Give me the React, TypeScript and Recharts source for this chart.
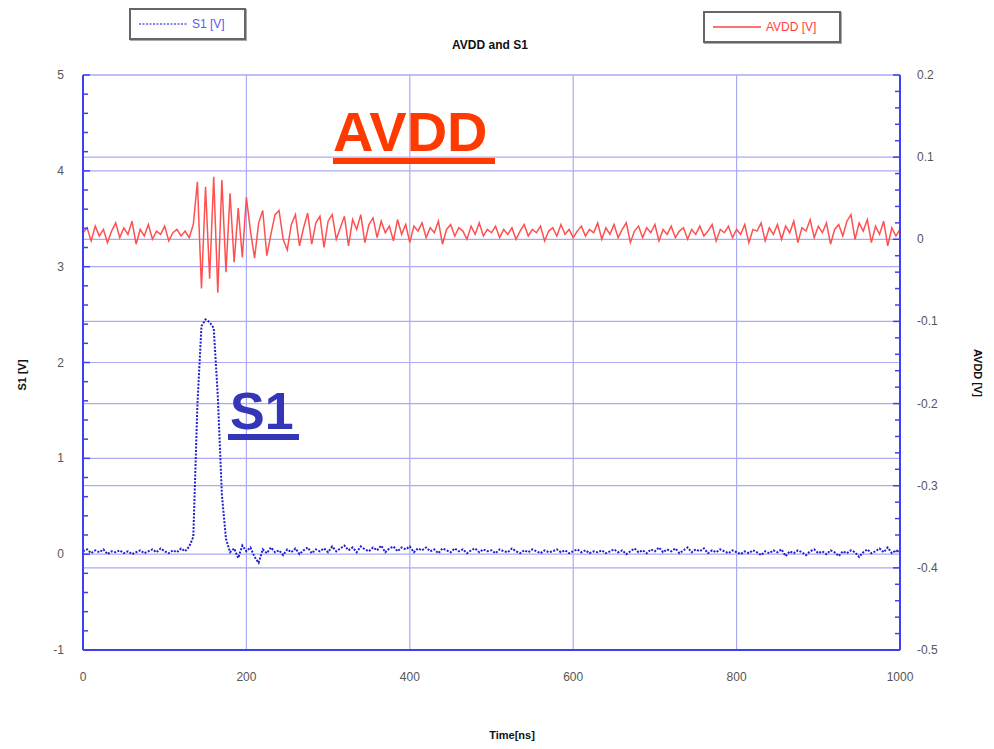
import { LineChart, Line, XAxis, YAxis, CartesianGrid } from 'recharts'

// sample times in ns
const times = [
  0, 5, 10, 15, 20, 25, 30, 35, 40, 45,
  50, 55, 60, 65, 70, 75, 80, 85, 90, 95,
  100, 105, 110, 115, 120, 125, 130, 135, 140, 145,
  150, 155, 160, 165, 170, 175, 180, 185, 190, 195,
  200, 205, 210, 215, 220, 225, 230, 235, 240, 245,
  250, 255, 260, 265, 270, 275, 280, 285, 290, 295,
  300, 305, 310, 315, 320, 325, 330, 335, 340, 345,
  350, 355, 360, 365, 370, 375, 380, 385, 390, 395,
  400, 405, 410, 415, 420, 425, 430, 435, 440, 445,
  450, 455, 460, 465, 470, 475, 480, 485, 490, 495,
  500, 505, 510, 515, 520, 525, 530, 535, 540, 545,
  550, 555, 560, 565, 570, 575, 580, 585, 590, 595,
  600, 605, 610, 615, 620, 625, 630, 635, 640, 645,
  650, 655, 660, 665, 670, 675, 680, 685, 690, 695,
  700, 705, 710, 715, 720, 725, 730, 735, 740, 745,
  750, 755, 760, 765, 770, 775, 780, 785, 790, 795,
  800, 805, 810, 815, 820, 825, 830, 835, 840, 845,
  850, 855, 860, 865, 870, 875, 880, 885, 890, 895,
  900, 905, 910, 915, 920, 925, 930, 935, 940, 945,
  950, 955, 960, 965, 970, 975, 980, 985, 990, 995,
  1000,
]

const s1 = [
  0.03, 0.05, 0.01, 0.04, 0.02, 0.05, 0.0, 0.03, 0.02, 0.04,
  0.01, 0.03, 0.0, 0.02, 0.04, 0.01, 0.03, 0.05, 0.02, 0.06,
  0.03, 0.01, 0.04, 0.02, 0.06, 0.03, 0.08, 0.18, 1.55, 2.38,
  2.45, 2.42, 2.36, 1.65, 0.62, 0.16, 0.02, 0.06, -0.04, 0.09,
  0.03, 0.07, -0.03, -0.09, 0.05, 0.01, 0.07, 0.02, 0.04, -0.01,
  0.05, 0.02, 0.06, 0.0, 0.04, 0.07, 0.01, 0.05, 0.03, 0.06,
  0.02, 0.08, 0.03, 0.06, 0.09, 0.04, 0.07, 0.02, 0.08, 0.05,
  0.03, 0.07, 0.04, 0.09, 0.02, 0.06, 0.08, 0.03, 0.07, 0.05,
  0.08, 0.02, 0.06, 0.04, 0.07, 0.03, 0.05, 0.01, 0.06, 0.04,
  0.02, 0.06, 0.03, 0.05, 0.01, 0.04, 0.06, 0.02, 0.05, 0.03,
  0.04, 0.01, 0.05, 0.03, 0.02, 0.06, 0.03, 0.01, 0.04, 0.02,
  0.05, 0.03, 0.01, 0.04, 0.02, 0.03, 0.05, 0.02, 0.04, 0.01,
  0.03, 0.05, 0.02, 0.04, 0.01, 0.03, 0.02, 0.04, 0.01, 0.03,
  0.05, 0.02, 0.04, 0.0, 0.03, 0.06, 0.02, 0.04, 0.01, 0.05,
  0.03, 0.07, 0.02, 0.05, 0.03, 0.06, 0.01, 0.04, 0.07, 0.02,
  0.05, 0.03, 0.06, 0.01, 0.04, 0.02, 0.05, 0.03, 0.01, 0.04,
  0.02, 0.0, 0.03, 0.01, 0.04, 0.02, -0.01, 0.03, 0.01, 0.04,
  0.02, 0.05, -0.02, 0.03, 0.01, 0.04, 0.02, -0.01, 0.03, 0.05,
  0.01, 0.03, 0.0, 0.04, 0.02, -0.02, 0.03, 0.01, 0.04, 0.02,
  -0.03, 0.02, 0.05, 0.01, 0.03, 0.06, 0.02, 0.07, 0.01, 0.04,
  0.03,
]

const avdd = [
  0.008, 0.014, -0.002, 0.016, 0.004, 0.012, -0.004, 0.01, 0.02, 0.002,
  0.014, 0.006, 0.022, -0.006, 0.012, 0.004, 0.018, 0.0, 0.01, 0.006,
  0.016, -0.002, 0.008, 0.012, 0.004, 0.01, 0.002, 0.018, 0.07, -0.06,
  0.064, -0.048, 0.076, -0.065, 0.072, -0.04, 0.056, -0.028, 0.038, -0.022,
  0.051, 0.01, -0.023, 0.02, 0.035, -0.02, 0.006, 0.03, 0.035, 0.0,
  -0.013, 0.018, 0.03, -0.008, 0.014, 0.032, -0.006, 0.02, 0.028, -0.01,
  0.022, 0.03, 0.0, 0.014, 0.028, -0.008, 0.024, 0.012, 0.03, -0.004,
  0.018, 0.026, 0.002, 0.022, 0.008, 0.016, -0.002, 0.024, 0.006, 0.018,
  -0.004, 0.016, 0.01, 0.02, 0.002, 0.014, 0.008, 0.022, -0.006, 0.012,
  0.018, 0.004, 0.014, 0.01, 0.0, 0.016, 0.006, 0.02, 0.004, 0.012,
  0.008, 0.016, 0.002, 0.012, 0.006, 0.014, 0.0, 0.01, 0.018, 0.004,
  0.012, 0.008, 0.016, -0.002, 0.01, 0.014, 0.004, 0.018, 0.006, 0.012,
  0.002, 0.01, 0.016, 0.004, 0.012, 0.008, 0.02, 0.0, 0.014, 0.006,
  0.018, 0.002, 0.012, 0.02, -0.004, 0.01, 0.016, 0.002, 0.014, 0.008,
  0.018, -0.002, 0.012, 0.006, 0.016, 0.002, 0.01, 0.014, 0.0, 0.012,
  0.006, 0.016, 0.004, 0.01, 0.018, -0.002, 0.012, 0.008, 0.016, 0.002,
  0.012, 0.006, 0.018, -0.004, 0.012, 0.01, 0.02, -0.002, 0.014, 0.006,
  0.018, 0.0, 0.016, 0.008, 0.022, -0.004, 0.014, 0.01, 0.024, 0.002,
  0.016, 0.008, 0.02, -0.006, 0.012, 0.018, 0.004, 0.022, 0.03, 0.0,
  0.02, 0.01, 0.024, -0.004, 0.016, 0.006, 0.022, -0.008, 0.014, 0.004,
  0.012,
]

const xTicks = [0, 200, 400, 600, 800, 1000]
const leftMajor = [-1, 0, 1, 2, 3, 4, 5]
const leftMinor = [
  -1, -0.8, -0.6, -0.4, -0.2, 0, 0.2, 0.4, 0.6, 0.8, 1, 1.2, 1.4, 1.6, 1.8, 2,
  2.2, 2.4, 2.6, 2.8, 3, 3.2, 3.4, 3.6, 3.8, 4, 4.2, 4.4, 4.6, 4.8, 5,
]
const rightMajor = [-0.5, -0.4, -0.3, -0.2, -0.1, 0, 0.1, 0.2]
const rightMinor = [
  -0.5, -0.48, -0.46, -0.44, -0.42, -0.4, -0.38, -0.36, -0.34, -0.32, -0.3,
  -0.28, -0.26, -0.24, -0.22, -0.2, -0.18, -0.16, -0.14, -0.12, -0.1, -0.08,
  -0.06, -0.04, -0.02, 0, 0.02, 0.04, 0.06, 0.08, 0.1, 0.12, 0.14, 0.16, 0.18, 0.2,
]

const data = times.map((t, i) => ({ t, s1: s1[i], avdd: avdd[i] }))

const PLOT_LEFT = 83
const PLOT_RIGHT = 900
const PLOT_TOP = 75
const PLOT_BOTTOM = 650
const AXIS_BLUE = '#3f3ff5'
const GRID_BLUE = '#aaaaf6'
const S1_BLUE = '#2020d0'
const AVDD_RED = '#ff5050'
const NARROW = '"Liberation Sans Narrow", "Liberation Sans", Arial, sans-serif'
const TICK_STYLE = { fontFamily: NARROW, fontSize: 12, fill: '#555' }

function LeftTick(props: any) {
  const { y, payload } = props
  const major = leftMajor.includes(payload.value)
  return (
    <g>
      <line x1={PLOT_LEFT} x2={PLOT_LEFT + (major ? 7 : 5)} y1={y} y2={y} stroke={AXIS_BLUE} strokeWidth={1.5} />
      {major && (
        <text x={64} y={y + 4} textAnchor="end" {...TICK_STYLE}>
          {payload.value}
        </text>
      )}
    </g>
  )
}

function RightTick(props: any) {
  const { y, payload } = props
  const major = rightMajor.includes(payload.value)
  return (
    <g>
      <line x1={PLOT_RIGHT - (major ? 7 : 5)} x2={PLOT_RIGHT} y1={y} y2={y} stroke={AXIS_BLUE} strokeWidth={1.5} />
      {major && (
        <text x={917} y={y + 4} textAnchor="start" {...TICK_STYLE}>
          {payload.value}
        </text>
      )}
    </g>
  )
}

function BottomTick(props: any) {
  const { x, payload } = props
  return (
    <text x={x} y={681} textAnchor="middle" {...TICK_STYLE}>
      {payload.value}
    </text>
  )
}

function LegendBox({ left, top, width, label, color, dashed }: any) {
  return (
    <div
      style={{
        position: 'absolute',
        left,
        top,
        width,
        height: 32,
        border: '2px solid #666',
        boxShadow: '1px 1px 0 #aaa',
        background: '#fff',
        boxSizing: 'border-box',
      }}
    >
      <svg width={width - 4} height={28} style={{ position: 'absolute', left: 0, top: 0 }}>
        <line x1={8} x2={56} y1={14} y2={14} stroke={color} strokeWidth={1.5} strokeDasharray={dashed ? '2 1.5' : undefined} />
        <text x={61} y={18} fontFamily={NARROW} fontSize={12} fill={color}>
          {label}
        </text>
      </svg>
    </div>
  )
}

export default function App() {
  return (
    <div
      style={{
        position: 'absolute',
        left: 0,
        top: 0,
        width: 994,
        height: 749,
        background: '#fff',
        fontFamily: '"Liberation Sans", Arial, sans-serif',
      }}
    >
      <LineChart
        width={994}
        height={749}
        data={data}
        margin={{ top: PLOT_TOP, right: 0, bottom: 0, left: 0 }}
      >
        <CartesianGrid
          yAxisId="left"
          horizontalValues={leftMajor}
          verticalValues={xTicks}
          stroke={GRID_BLUE}
          strokeWidth={1.2}
        />
        <CartesianGrid
          yAxisId="right"
          horizontalValues={rightMajor}
          vertical={false}
          stroke={GRID_BLUE}
          strokeWidth={1.2}
        />
        <XAxis
          xAxisId="top"
          orientation="top"
          dataKey="t"
          type="number"
          domain={[0, 1000]}
          height={0}
          tick={false}
          tickLine={false}
          axisLine={{ stroke: AXIS_BLUE, strokeWidth: 2 }}
        />
        <XAxis
          dataKey="t"
          type="number"
          domain={[0, 1000]}
          ticks={xTicks}
          height={749 - PLOT_BOTTOM}
          tick={<BottomTick />}
          tickLine={false}
          axisLine={{ stroke: AXIS_BLUE, strokeWidth: 2 }}
        />
        <YAxis
          yAxisId="left"
          type="number"
          domain={[-1, 5]}
          ticks={leftMinor}
          interval={0}
          width={PLOT_LEFT}
          tick={<LeftTick />}
          tickLine={false}
          axisLine={{ stroke: AXIS_BLUE, strokeWidth: 2 }}
        />
        <YAxis
          yAxisId="right"
          orientation="right"
          type="number"
          domain={[-0.5, 0.2]}
          ticks={rightMinor}
          interval={0}
          width={994 - PLOT_RIGHT}
          tick={<RightTick />}
          tickLine={false}
          axisLine={{ stroke: AXIS_BLUE, strokeWidth: 2 }}
        />
        <Line
          yAxisId="right"
          dataKey="avdd"
          type="linear"
          stroke={AVDD_RED}
          strokeWidth={1.5}
          dot={false}
          isAnimationActive={false}
        />
        <Line
          yAxisId="left"
          dataKey="s1"
          type="linear"
          stroke={S1_BLUE}
          strokeWidth={2}
          strokeDasharray="2 1.5"
          dot={false}
          isAnimationActive={false}
        />
      </LineChart>

      <LegendBox left={129} top={8} width={117} label="S1 [V]" color="#5a5af0" dashed />
      <LegendBox left={703} top={11} width={138} label="AVDD [V]" color="#ff4040" />

      <div style={{ position: 'absolute', left: 390, width: 200, top: 38, textAlign: 'center', fontSize: 12, fontWeight: 'bold', color: '#111' }}>
        AVDD and S1
      </div>

      <div style={{ position: 'absolute', left: 333, top: 100, fontSize: 56, fontWeight: 'bold', color: '#ff3a00', lineHeight: '64px' }}>
        AVDD
      </div>
      <div style={{ position: 'absolute', left: 333, top: 158, width: 162, height: 6, background: '#ff3a00' }} />

      <div style={{ position: 'absolute', left: 230, top: 381, fontSize: 52, fontWeight: 'bold', color: '#3535b8', lineHeight: '60px' }}>
        S1
      </div>
      <div style={{ position: 'absolute', left: 228, top: 434, width: 71, height: 6, background: '#3535b8' }} />

      <div style={{ position: 'absolute', left: 22, top: 375, transform: 'translate(-50%, -50%) rotate(-90deg)', fontSize: 11, fontWeight: 'bold', whiteSpace: 'nowrap', color: '#111' }}>
        S1 [V]
      </div>
      <div style={{ position: 'absolute', left: 978, top: 373, transform: 'translate(-50%, -50%) rotate(90deg)', fontSize: 11, fontWeight: 'bold', whiteSpace: 'nowrap', color: '#111' }}>
        AVDD [V]
      </div>
      <div style={{ position: 'absolute', left: 412, width: 200, top: 729, textAlign: 'center', fontSize: 11, fontWeight: 'bold', color: '#111' }}>
        Time[ns]
      </div>
    </div>
  )
}
